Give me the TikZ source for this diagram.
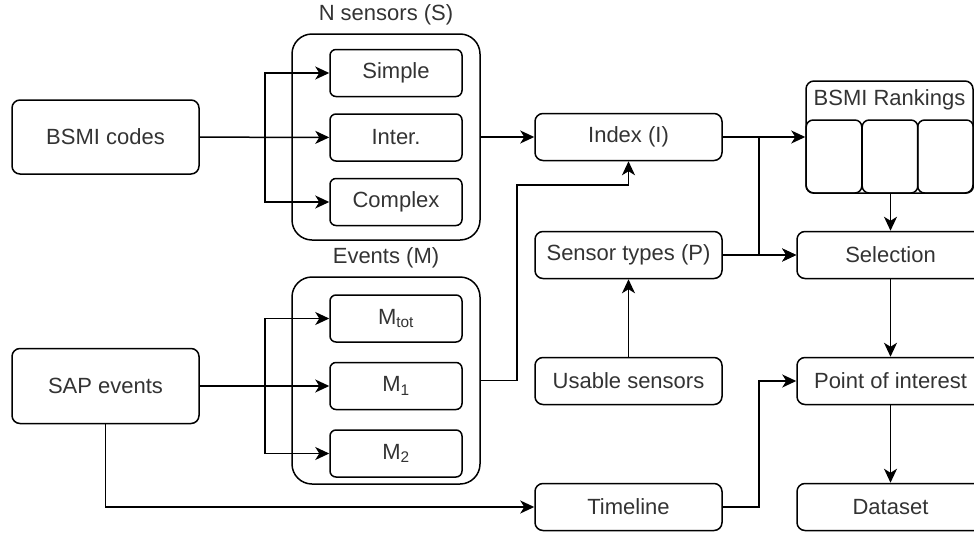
\documentclass[tikz,border=0pt]{standalone}
\usepackage{fontspec}
\setmainfont{Liberation Sans}
\usetikzlibrary{arrows.meta, positioning}

\tikzset{
  box/.style={draw, rounded corners=8pt, minimum width=187pt, minimum height=47pt, inner sep=0pt, text=black!80},
  inbox/.style={draw, rounded corners=6pt, minimum width=132pt, minimum height=47pt, inner sep=0pt, text=black!80},
  group/.style={draw, rounded corners=20pt, minimum width=188pt, inner sep=0pt},
  col/.style={draw, rounded corners=7pt, minimum width=55.7pt, minimum height=73pt, inner sep=0pt},
  title/.style={inner sep=0pt, text=black!80}
}

\begin{document}
\begin{tikzpicture}[x=1pt, y=-1pt, ->, >={Stealth[length=14pt,width=13pt,inset=4pt]}, line width=1.5pt,
    font=\fontsize{22}{25}\selectfont]

	\useasboundingbox (0,0) rectangle (974,533);

	% left column
	\node [box, minimum height=74pt]	(bsmi)		at (105.5,137)		{BSMI codes};
	\node [box, minimum height=75pt]	(sap)		at (105.5,386)		{SAP events};

	% sensor group
	\node [group, minimum height=206pt]	(sensors)	at (386,137)		{};
	\node [title]	(sensorslbl)	[above=7pt of sensors]				{N sensors (S)};
	\node [inbox]	(inter)		at (396,137.5)						{Inter.};
	\node [inbox]	(simple)	[above=16pt of inter]				{Simple};
	\node [inbox]	(complex)	[below=16pt of inter]				{Complex};

	% event group
	\node [group, minimum height=207pt]	(events)	at (386,380.5)		{};
	\node [title]	(eventslbl)	[above=7pt of events]				{Events (M)};
	\node [inbox]	(m1)		at (396,386)						{M\textsubscript{1}};
	\node [inbox]	(mtot)		[above=19pt of m1]					{M\textsubscript{tot}};
	\node [inbox]	(m2)		[below=19pt of m1]					{M\textsubscript{2}};

	% middle column
	\node [box]		(index)		at (628.5,137)						{Index (I)};
	\node [box]		(types)		at (628.5,255)						{Sensor types (P)};
	\node [box]		(usable)	at (628.5,381)						{Usable sensors};
	\node [box]		(timeline)	at (628.5,507)						{Timeline};

	% right column
	\node [draw, rounded corners=8pt, minimum width=167pt, minimum height=112pt, inner sep=0pt]
					(ranks)		at (889.5,137)						{};
	\node [title]	(rankslbl)	at (889.5,100)						{BSMI Rankings};
	\foreach \i/\x in {1/834, 2/890, 3/945.5}
		\node [col]	(rank\i)	at (\x,156.5)						{};
	\node [box]		(selection)	at (890.5,255)						{Selection};
	\node [box]		(poi)		at (890.5,381)						{Point of interest};
	\node [box]		(dataset)	at (890.5,507)						{Dataset};

	% forks and bends
	\coordinate (sfork) at (265,137);
	\coordinate (efork) at (265,386);
	\coordinate (ebend) at (517,185);
	\coordinate (ifork) at (759,137);

	\draw (bsmi) -- (inter);
	\draw (sfork) |- (simple);
	\draw (sfork) |- (complex);

	\draw (sap.east |- m1) -- (m1);
	\draw (efork) |- (mtot);
	\draw (efork) |- (m2);

	\draw (sensors.east) -- (index.west);
	\draw (events.east) -| (ebend) -| (index.south);
	\draw (sap.south) |- (timeline.west);
	\draw (usable) -- (types);

	\draw (index.east) -- (ranks.west);
	\draw (ifork) |- (selection.west);
	\draw (types.east) -- (selection.west);
	\draw (ranks.south -| selection) -- (selection);
	\draw (selection) -- (poi);
	\draw (poi) -- (dataset);
	\draw (timeline.east) -| (ifork |- usable) -- (poi.west);

\end{tikzpicture}
\end{document}
